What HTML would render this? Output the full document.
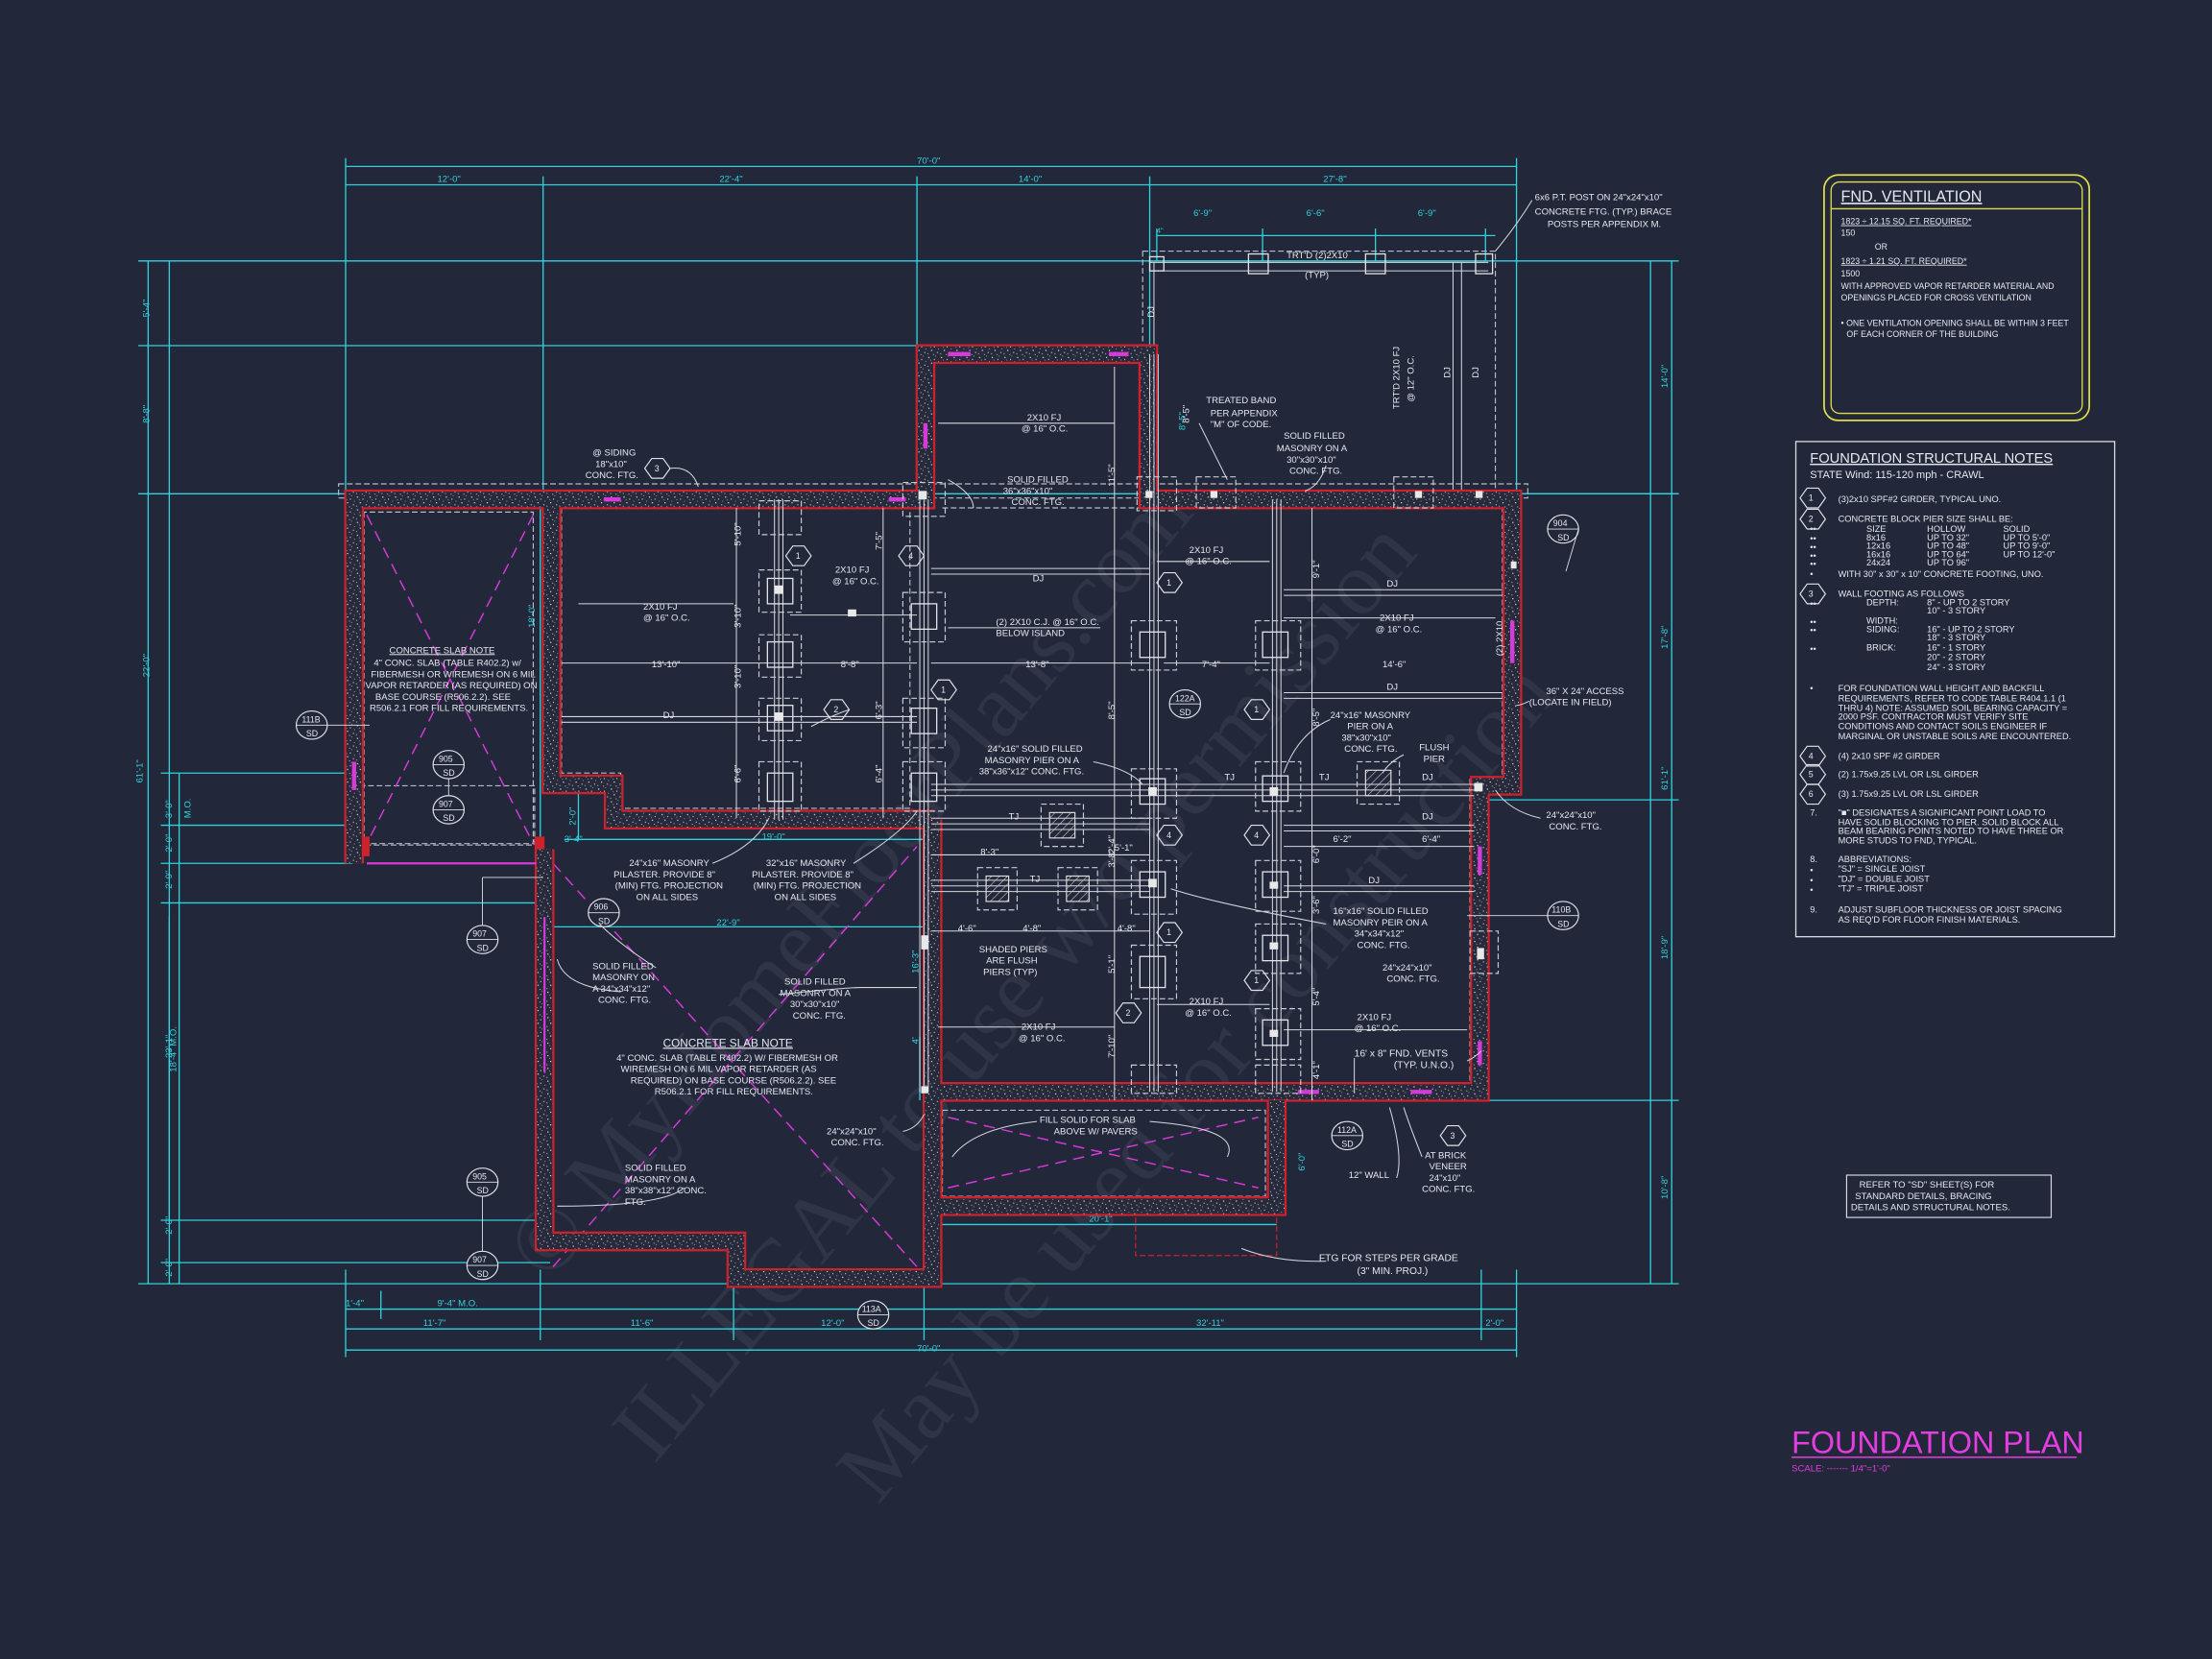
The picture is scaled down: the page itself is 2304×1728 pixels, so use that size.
<!DOCTYPE html>
<html><head><meta charset="utf-8"><style>
html,body{margin:0;padding:0;background:#22273a;}
svg{display:block}
text{font-family:"Liberation Sans",sans-serif;fill:#e6e8ef;}
.t{font-size:6.5px}
.c{fill:#2fd3dc;font-size:6.5px}
.dm{stroke:#2fd3dc;stroke-width:0.9;fill:none}
.w1{stroke:#d0202c;stroke-width:14;fill:none;stroke-linejoin:miter}
.w2{stroke:url(#dots);stroke-width:11;fill:none;stroke-linejoin:miter}
.ds{stroke:#b8bcc8;stroke-width:0.8;fill:none;stroke-dasharray:4 2}
.gl{stroke:#d6d8de;stroke-width:0.7;fill:none}
.mg{stroke:#d63ad8;stroke-width:1;fill:none;stroke-dasharray:8 5}
.pd{stroke:#c8ccd6;stroke-width:0.8;fill:none;stroke-dasharray:4 2}
.ps{stroke:#e0e2e8;stroke-width:0.9;fill:none}
.wm{font-family:"Liberation Serif",serif;fill:#6a6e7e;opacity:0.18;font-size:64px}
</style></head><body>
<svg width="2304" height="1728" viewBox="0 0 1568 1176" xmlns="http://www.w3.org/2000/svg">
<defs>
<pattern id="h" width="4" height="4" patternUnits="userSpaceOnUse" patternTransform="rotate(45)"><line x1="0" y1="0" x2="0" y2="4" stroke="#cfcfcf" stroke-width="0.8"/></pattern>
<pattern id="dots" width="9" height="9" patternUnits="userSpaceOnUse"><rect width="9" height="9" fill="#262a3b"/>
<g fill="#ececec"><rect x="1" y="1" width="0.8" height="0.8"/><rect x="5" y="2.5" width="0.7" height="0.7"/><rect x="3" y="5" width="0.8" height="0.8"/><rect x="7.2" y="6.5" width="0.7" height="0.7"/><rect x="0.5" y="7.5" width="0.6" height="0.6"/><rect x="6" y="0.2" width="0.5" height="0.5"/><rect x="2.5" y="3" width="0.5" height="0.5"/><rect x="8" y="4" width="0.5" height="0.5"/><rect x="4.5" y="8" width="0.6" height="0.6"/></g></pattern>
</defs>
<rect width="1568" height="1176" fill="#22273a"/>

<g transform="rotate(-50 720 640)">
<text class="wm" x="300" y="560">© MyHomeFloorPlans.com</text>
<text class="wm" x="250" y="700">ILLEGAL to use w/o permission</text>
<text class="wm" x="330" y="840">May be used for construction</text>
</g>

<g class="dm">
<line x1="245" y1="118" x2="1075" y2="118"/><line x1="245" y1="131" x2="1075" y2="131"/>
<line x1="245" y1="112" x2="245" y2="350"/><line x1="385" y1="125" x2="385" y2="350"/><line x1="650" y1="125" x2="650" y2="248"/><line x1="815" y1="125" x2="815" y2="350"/><line x1="1075" y1="112" x2="1075" y2="350"/>
<line x1="820" y1="167" x2="1060" y2="167"/><line x1="820" y1="162" x2="820" y2="185"/><line x1="895" y1="162" x2="895" y2="185"/><line x1="975" y1="162" x2="975" y2="185"/><line x1="1053" y1="162" x2="1053" y2="185"/>
<line x1="105" y1="185" x2="105" y2="910"/><line x1="120" y1="185" x2="120" y2="910"/>
<line x1="98" y1="185" x2="1190" y2="185"/><line x1="98" y1="245" x2="655" y2="245"/><line x1="98" y1="350" x2="1190" y2="350"/><line x1="98" y1="910" x2="1190" y2="910"/>
<line x1="114" y1="548" x2="250" y2="548"/><line x1="114" y1="585" x2="250" y2="585"/><line x1="114" y1="612" x2="250" y2="612"/><line x1="114" y1="640" x2="390" y2="640"/><line x1="114" y1="865" x2="390" y2="865"/><line x1="114" y1="895" x2="390" y2="895"/>
<line x1="127" y1="548" x2="127" y2="910"/>
<line x1="1170" y1="185" x2="1170" y2="910"/><line x1="1185" y1="185" x2="1185" y2="910"/>
<line x1="1055" y1="567" x2="1190" y2="567"/><line x1="1050" y1="780" x2="1190" y2="780"/><line x1="1060" y1="350" x2="1190" y2="350"/>
<line x1="245" y1="928" x2="1075" y2="928"/><line x1="245" y1="942" x2="1075" y2="942"/><line x1="245" y1="957" x2="1075" y2="957"/>
<line x1="245" y1="900" x2="245" y2="962"/><line x1="383" y1="900" x2="383" y2="950"/><line x1="520" y1="900" x2="520" y2="950"/><line x1="655" y1="900" x2="655" y2="950"/><line x1="1050" y1="900" x2="1050" y2="950"/><line x1="1075" y1="900" x2="1075" y2="962"/><line x1="270" y1="915" x2="270" y2="935"/>
<line x1="400" y1="595" x2="655" y2="595"/><line x1="392" y1="657" x2="655" y2="657"/><line x1="665" y1="868" x2="905" y2="868"/>
<line x1="383" y1="355" x2="383" y2="595"/><line x1="410" y1="555" x2="410" y2="595"/>
<line x1="120" y1="650" x2="120" y2="865"/><line x1="905" y1="785" x2="905" y2="855"/>
<line x1="652" y1="735" x2="652" y2="780"/>
</g>
<g>
<text class="c" x="310" y="129">12'-0"</text><text class="c" x="510" y="129">22'-4"</text><text class="c" x="722" y="129">14'-0"</text><text class="c" x="938" y="129">27'-8"</text>
<text class="c" x="650" y="116">70'-0"</text><text class="c" x="650" y="958">70'-0"</text>
<text class="c" x="846" y="153">6'-9"</text><text class="c" x="926" y="153">6'-6"</text><text class="c" x="1005" y="153">6'-9"</text><text class="c" x="820" y="165" style="font-size:5px">4"</text>
<text class="c" x="300" y="940">11'-7"</text><text class="c" x="447" y="940">11'-6"</text><text class="c" x="582" y="940">12'-0"</text><text class="c" x="848" y="940">32'-11"</text><text class="c" x="1053" y="940">2'-0"</text>
<text class="c" x="310" y="926">9'-4" M.O.</text><text class="c" x="245" y="926">1'-4"</text><text class="c" x="508" y="656">22'-9"</text><text class="c" x="540" y="595">19'-0"</text><text class="c" x="400" y="597">3'-4"</text><text class="c" x="772" y="866">20'-1"</text>
<g transform="rotate(-90)">
<text class="c" x="-225" y="106">5'-4"</text><text class="c" x="-300" y="106">8'-8"</text><text class="c" x="-480" y="106">22'-0"</text><text class="c" x="-555" y="101">61'-1"</text>
<text class="c" x="-580" y="122">3'-0"</text><text class="c" x="-604" y="122">2'-0"</text><text class="c" x="-630" y="122">2'-9"</text><text class="c" x="-750" y="122">23'-1"</text><text class="c" x="-875" y="122">2'-0"</text><text class="c" x="-905" y="122">2'-0"</text>
<text class="c" x="-760" y="125">18'-4" M.O.</text><text class="c" x="-580" y="135">M.O.</text>
<text class="c" x="-275" y="1182">14'-0"</text><text class="c" x="-460" y="1182">17'-8"</text><text class="c" x="-560" y="1182">61'-1"</text><text class="c" x="-680" y="1182">18'-9"</text><text class="c" x="-850" y="1182">10'-8"</text>
<text class="c" x="-445" y="379">18'-0"</text><text class="c" x="-830" y="925">6'-0"</text><text class="c" x="-690" y="651">16'-3"</text><text class="c" x="-740" y="651">4'</text><text class="c" x="-305" y="840">8'-5"</text><text class="c" x="-585" y="408">2'-0"</text>
</g>
</g>

<g>
<rect x="810" y="178" width="250" height="172" class="ds"/>
<line x1="815" y1="186" x2="1055" y2="186" class="gl"/><line x1="815" y1="192" x2="1055" y2="192" class="gl"/>
<line x1="1030" y1="186" x2="1030" y2="350" class="gl"/><line x1="1036" y1="186" x2="1036" y2="350" class="gl"/>
<line x1="818" y1="186" x2="818" y2="245" class="gl"/>
<rect x="815" y="182" width="10" height="10" class="ps"/><rect x="885" y="180" width="14" height="14" class="ps"/><rect x="968" y="180" width="14" height="14" class="ps"/><rect x="1046" y="180" width="12" height="14" class="ps"/>
<text class="t" x="912" y="183">TRT'D (2)2X10</text><text class="t" x="925" y="197">(TYP)</text>
<text class="t" x="1088" y="142">6x6 P.T. POST ON 24"x24"x10"</text><text class="t" x="1088" y="152">CONCRETE FTG. (TYP.) BRACE</text><text class="t" x="1097" y="161">POSTS PER APPENDIX M.</text>
<path d="M1060,178 Q1075,160 1086,142" class="gl"/>
<text class="t" x="855" y="286">TREATED BAND</text><text class="t" x="858" y="295">PER APPENDIX</text><text class="t" x="858" y="303">"M" OF CODE.</text>
<text class="t" x="910" y="311">SOLID FILLED</text><text class="t" x="905" y="320">MASONRY ON A</text><text class="t" x="912" y="328">30"x30"x10"</text><text class="t" x="914" y="336">CONC. FTG.</text>
<g transform="rotate(-90)"><text class="t" x="-290" y="992">TRT'D 2X10 FJ</text><text class="t" x="-285" y="1002">@ 12" O.C.</text><text class="t" x="-268" y="1028">DJ</text><text class="t" x="-268" y="1048">DJ</text><text class="t" x="-225" y="818">DJ</text></g>
</g>

<g class="ds">
<rect x="240" y="343" width="843" height="10"/>
<path d="M258,363 V598 H378 V363 Z"/>
<path d="M398,360 V548 H440 V573 H645 V360"/>
<path d="M392,610 V875 H526 V900 H648"/>
<path d="M668,360 H1065 V552 H1042 V768 H668"/>
<path d="M668,787 H897 V848 H668 Z"/>
<rect x="255" y="557" width="124" height="42"/>
<rect x="805" y="855" width="100" height="35" style="stroke:#d0202c"/>
</g>

<g class="mg">
<line x1="260" y1="365" x2="378" y2="598"/><line x1="378" y1="365" x2="260" y2="598"/>
<line x1="392" y1="612" x2="650" y2="898"/><line x1="392" y1="898" x2="650" y2="600"/>
<line x1="672" y1="792" x2="892" y2="842"/><line x1="672" y1="842" x2="892" y2="792"/>
</g>

<g>
<path class="w1" d="M251,612 V354 H656 V251 H814 V354 H1072 V557 H1049 V774 H656"/>
<path class="w1" d="M391,354 V556 H435 V581 H662"/>
<path class="w1" d="M386,602 V880 H522 V906 H661 V581"/>
<path class="w1" d="M661,780 V855 H905 V780"/>
<path class="w1" d="M251,600 H262 M379,600 H386"/>
<path class="w2" d="M251,612 V354 H656 V251 H814 V354 H1072 V557 H1049 V774 H656"/>
<path class="w2" d="M391,354 V556 H435 V581 H662"/>
<path class="w2" d="M386,602 V880 H522 V906 H661 V581"/>
<path class="w2" d="M661,780 V855 H905 V780"/>
<g stroke="#d63ad8" stroke-width="3">
<line x1="428" y1="354" x2="440" y2="354"/><line x1="630" y1="354" x2="642" y2="354"/><line x1="672" y1="251" x2="688" y2="251"/><line x1="786" y1="251" x2="800" y2="251"/>
<line x1="656" y1="300" x2="656" y2="318"/><line x1="1072" y1="440" x2="1072" y2="470"/><line x1="1049" y1="600" x2="1049" y2="620"/><line x1="1049" y1="738" x2="1049" y2="755"/>
<line x1="920" y1="774" x2="935" y2="774"/><line x1="1000" y1="774" x2="1015" y2="774"/><line x1="251" y1="540" x2="251" y2="560"/><line x1="260" y1="612" x2="380" y2="612" stroke-width="1.5"/><line x1="386" y1="650" x2="386" y2="760" stroke-width="1.5"/>
</g>
</g>

<g class="gl">
<line x1="549" y1="354" x2="549" y2="581"/><line x1="552" y1="354" x2="552" y2="581"/><line x1="555" y1="354" x2="555" y2="581"/>
<line x1="652" y1="354" x2="652" y2="774"/><line x1="655" y1="354" x2="655" y2="774"/><line x1="658" y1="354" x2="658" y2="774"/>
<line x1="815" y1="251" x2="815" y2="774"/><line x1="818" y1="251" x2="818" y2="774"/><line x1="821" y1="251" x2="821" y2="774"/>
<line x1="902" y1="354" x2="902" y2="774"/><line x1="905" y1="354" x2="905" y2="774"/><line x1="908" y1="354" x2="908" y2="774"/>
<line x1="398" y1="508" x2="650" y2="508"/><line x1="398" y1="512" x2="650" y2="512"/>
<line x1="660" y1="403" x2="815" y2="403"/><line x1="660" y1="407" x2="815" y2="407"/>
<line x1="910" y1="418" x2="1065" y2="418"/><line x1="910" y1="422" x2="1065" y2="422"/>
<line x1="910" y1="491" x2="1065" y2="491"/><line x1="910" y1="495" x2="1065" y2="495"/>
<line x1="660" y1="556" x2="1045" y2="556"/><line x1="660" y1="560" x2="1045" y2="560"/><line x1="660" y1="564" x2="1045" y2="564"/>
<line x1="660" y1="580" x2="815" y2="580"/><line x1="660" y1="584" x2="815" y2="584"/><line x1="660" y1="588" x2="815" y2="588"/>
<line x1="910" y1="585" x2="1045" y2="585"/><line x1="910" y1="589" x2="1045" y2="589"/>
<line x1="660" y1="624" x2="815" y2="624"/><line x1="660" y1="628" x2="815" y2="628"/><line x1="660" y1="632" x2="815" y2="632"/>
<line x1="910" y1="628" x2="1045" y2="628"/><line x1="910" y1="632" x2="1045" y2="632"/>
<line x1="560" y1="436" x2="650" y2="436"/>
<line x1="522" y1="360" x2="522" y2="580"/><line x1="626" y1="360" x2="626" y2="580"/><line x1="790" y1="260" x2="790" y2="780"/><line x1="930" y1="360" x2="930" y2="780"/>
<line x1="398" y1="470" x2="650" y2="470"/><line x1="660" y1="470" x2="815" y2="470"/><line x1="825" y1="470" x2="900" y2="470"/>
<line x1="660" y1="606" x2="815" y2="606"/><line x1="660" y1="660" x2="815" y2="660"/><line x1="910" y1="600" x2="1045" y2="600"/>
</g>
<g class="gl" stroke-width="0.8">
<line x1="410" y1="428" x2="520" y2="428"/><line x1="665" y1="300" x2="790" y2="300"/><line x1="820" y1="398" x2="900" y2="398"/><line x1="910" y1="438" x2="1060" y2="438"/><line x1="665" y1="728" x2="790" y2="728"/><line x1="820" y1="712" x2="900" y2="712"/><line x1="910" y1="730" x2="1040" y2="730"/><line x1="672" y1="445" x2="780" y2="445"/>
</g>

<g>
<g class="pd">
<rect x="538" y="355" width="30" height="24"/><rect x="538" y="404" width="30" height="30"/><rect x="538" y="450" width="30" height="30"/><rect x="538" y="495" width="30" height="30"/><rect x="538" y="540" width="30" height="35"/>
<rect x="640" y="420" width="30" height="35"/><rect x="640" y="495" width="30" height="35"/><rect x="640" y="540" width="30" height="35"/><rect x="640" y="342" width="30" height="24"/>
<rect x="802" y="440" width="32" height="35"/><rect x="802" y="545" width="32" height="35"/><rect x="802" y="610" width="32" height="38"/><rect x="802" y="670" width="32" height="38"/><rect x="802" y="755" width="32" height="20"/>
<rect x="890" y="440" width="32" height="35"/><rect x="890" y="540" width="32" height="35"/><rect x="890" y="610" width="32" height="36"/><rect x="890" y="655" width="32" height="35"/><rect x="890" y="715" width="32" height="36"/><rect x="890" y="755" width="32" height="20"/>
<rect x="738" y="570" width="30" height="30"/><rect x="693" y="615" width="28" height="30"/><rect x="750" y="615" width="28" height="30"/><rect x="962" y="540" width="30" height="30"/><rect x="1042" y="660" width="20" height="30"/><rect x="988" y="338" width="28" height="22"/><rect x="848" y="338" width="28" height="22"/><rect x="806" y="338" width="28" height="24"/>
</g>
<g class="ps">
<rect x="544" y="410" width="18" height="18"/><rect x="544" y="455" width="18" height="18"/><rect x="544" y="500" width="18" height="18"/><rect x="544" y="548" width="18" height="20"/>
<rect x="646" y="428" width="18" height="18"/><rect x="646" y="502" width="18" height="18"/><rect x="646" y="548" width="18" height="20"/>
<rect x="808" y="448" width="18" height="18"/><rect x="808" y="552" width="18" height="18"/><rect x="808" y="618" width="18" height="18"/><rect x="808" y="678" width="18" height="22"/>
<rect x="895" y="448" width="18" height="18"/><rect x="895" y="550" width="18" height="18"/><rect x="895" y="618" width="18" height="18"/><rect x="895" y="663" width="18" height="18"/><rect x="895" y="723" width="18" height="18"/>
</g>
<rect x="744" y="576" width="18" height="18" fill="url(#h)" stroke="#ddd" stroke-width="0.8"/>
<rect x="699" y="621" width="16" height="18" fill="url(#h)" stroke="#ddd" stroke-width="0.8"/>
<rect x="756" y="621" width="16" height="18" fill="url(#h)" stroke="#ddd" stroke-width="0.8"/>
<rect x="968" y="546" width="18" height="18" fill="url(#h)" stroke="#ddd" stroke-width="0.8"/>
<g fill="#e8e8e8"><rect x="549" y="415" width="6" height="6"/><rect x="549" y="505" width="6" height="6"/><rect x="601" y="432" width="6" height="5"/><rect x="651" y="348" width="6" height="6"/><rect x="812" y="348" width="5" height="5"/><rect x="858" y="348" width="5" height="5"/><rect x="1003" y="348" width="5" height="5"/><rect x="1046" y="348" width="5" height="5"/><rect x="1045" y="555" width="6" height="6"/><rect x="1071" y="398" width="4" height="5"/><rect x="814" y="558" width="6" height="6"/><rect x="900" y="558" width="6" height="6"/><rect x="900" y="625" width="6" height="5"/><rect x="900" y="668" width="6" height="5"/><rect x="900" y="730" width="6" height="5"/><rect x="814" y="623" width="6" height="6"/><rect x="653" y="663" width="5" height="10"/><rect x="653" y="770" width="5" height="5"/><rect x="1047" y="672" width="5" height="8"/></g>
</g>

<g stroke="#e0e2e8" stroke-width="0.8" fill="none">
<polygon points="457,332 462,325 470,325 475,332 470,339 462,339"/>
<polygon points="557,394 562,387 570,387 575,394 570,401 562,401"/>
<polygon points="584,503 589,496 597,496 602,503 597,510 589,510"/>
<polygon points="637,394 642,387 650,387 655,394 650,401 642,401"/>
<polygon points="660,489 665,482 673,482 678,489 673,496 665,496"/>
<polygon points="820,413 825,406 833,406 838,413 833,420 825,420"/>
<polygon points="882,503 887,496 895,496 900,503 895,510 887,510"/>
<polygon points="820,592 825,585 833,585 838,592 833,599 825,599"/>
<polygon points="882,592 887,585 895,585 900,592 895,599 887,599"/>
<polygon points="820,661 825,654 833,654 838,661 833,668 825,668"/>
<polygon points="882,695 887,688 895,688 900,695 895,702 887,702"/>
<polygon points="791,718 796,711 804,711 809,718 804,725 796,725"/>
<polygon points="1021,805 1026,798 1034,798 1039,805 1034,812 1026,812"/>
<polygon points="1276,353 1281,346 1289,346 1294,353 1289,360 1281,360"/>
<polygon points="1276,368 1281,361 1289,361 1294,368 1289,375 1281,375"/>
<polygon points="1276,421 1281,414 1289,414 1294,421 1289,428 1281,428"/>
<polygon points="1276,536 1281,529 1289,529 1294,536 1289,543 1281,543"/>
<polygon points="1276,549 1281,542 1289,542 1294,549 1289,556 1281,556"/>
<polygon points="1276,563 1281,556 1289,556 1294,563 1289,570 1281,570"/>
</g>
<g class="t" style="font-size:6px">
<text x="464" y="334">3</text><text x="564" y="396">1</text><text x="591" y="505">2</text><text x="644" y="396">4</text><text x="667" y="491">1</text><text x="827" y="415">1</text><text x="889" y="505">1</text><text x="827" y="594">4</text><text x="889" y="594">4</text><text x="827" y="663">1</text><text x="889" y="697">1</text><text x="798" y="720">2</text><text x="1028" y="807">3</text>
<text x="1282" y="355">1</text><text x="1282" y="370">2</text><text x="1282" y="423">3</text><text x="1282" y="538">4</text><text x="1282" y="551">5</text><text x="1282" y="565">6</text>
</g>

<g stroke="#e0e2e8" stroke-width="0.8" fill="#22273a">
<ellipse cx="221" cy="514" rx="11" ry="10"/><ellipse cx="318" cy="542" rx="11" ry="10"/><ellipse cx="318" cy="574" rx="11" ry="10"/><ellipse cx="428" cy="647" rx="11" ry="10"/><ellipse cx="342" cy="666" rx="11" ry="10"/>
<ellipse cx="342" cy="838" rx="11" ry="10"/><ellipse cx="342" cy="897" rx="11" ry="10"/><ellipse cx="619" cy="932" rx="11" ry="10"/><ellipse cx="955" cy="805" rx="11" ry="10"/><ellipse cx="840" cy="499" rx="11" ry="10"/><ellipse cx="1108" cy="649" rx="11" ry="10"/><ellipse cx="1108" cy="375" rx="11" ry="10"/>
</g>
<g stroke="#e0e2e8" stroke-width="0.6">
<line x1="210" y1="514" x2="232" y2="514"/><line x1="307" y1="542" x2="329" y2="542"/><line x1="307" y1="574" x2="329" y2="574"/><line x1="417" y1="647" x2="439" y2="647"/><line x1="331" y1="666" x2="353" y2="666"/><line x1="331" y1="838" x2="353" y2="838"/><line x1="331" y1="897" x2="353" y2="897"/><line x1="608" y1="932" x2="630" y2="932"/><line x1="944" y1="805" x2="966" y2="805"/><line x1="829" y1="499" x2="851" y2="499"/><line x1="1097" y1="649" x2="1119" y2="649"/><line x1="1097" y1="375" x2="1119" y2="375"/>
<line x1="232" y1="514" x2="262" y2="514"/><line x1="318" y1="552" x2="318" y2="564"/><line x1="342" y1="848" x2="342" y2="887"/><line x1="342" y1="656" x2="342" y2="622" /><line x1="342" y1="622" x2="385" y2="622"/><line x1="1040" y1="649" x2="1097" y2="649"/><line x1="1119" y1="375" x2="1110" y2="405"/>
</g>
<g class="t" style="font-size:6px">
<text x="214" y="512">111B</text><text x="217" y="522">SD</text><text x="311" y="540">905</text><text x="314" y="550">SD</text><text x="311" y="572">907</text><text x="314" y="582">SD</text><text x="421" y="645">906</text><text x="424" y="655">SD</text><text x="335" y="664">907</text><text x="338" y="674">SD</text>
<text x="335" y="836">905</text><text x="338" y="846">SD</text><text x="335" y="895">907</text><text x="338" y="905">SD</text><text x="611" y="930">113A</text><text x="615" y="940">SD</text><text x="948" y="803">112A</text><text x="951" y="813">SD</text><text x="833" y="497">122A</text><text x="836" y="507">SD</text><text x="1100" y="647">110B</text><text x="1104" y="657">SD</text><text x="1101" y="373">904</text><text x="1104" y="383">SD</text>
</g>

<g class="t">
<text x="276" y="463" style="text-decoration:underline">CONCRETE SLAB NOTE</text>
<text x="265" y="472">4" CONC. SLAB (TABLE R402.2) w/</text><text x="263" y="480">FIBERMESH OR WIREMESH ON 6 MIL</text><text x="259" y="488">VAPOR RETARDER (AS REQUIRED) ON</text><text x="266" y="496">BASE COURSE (R506.2.2). SEE</text><text x="262" y="504">R506.2.1 FOR FILL REQUIREMENTS.</text>
<text x="470" y="742" style="font-size:8px;text-decoration:underline">CONCRETE SLAB NOTE</text>
<text x="437" y="752">4" CONC. SLAB (TABLE R402.2) W/ FIBERMESH OR</text><text x="440" y="760">WIREMESH ON 6 MIL VAPOR RETARDER (AS</text><text x="447" y="768">REQUIRED) ON BASE COURSE (R506.2.2). SEE</text><text x="464" y="776">R506.2.1 FOR FILL REQUIREMENTS.</text>
<text x="420" y="323">@ SIDING</text><text x="422" y="331">18"x10"</text><text x="415" y="339">CONC. FTG.</text>
<text x="456" y="432">2X10 FJ</text><text x="456" y="440">@ 16" O.C.</text>
<text x="592" y="406">2X10 FJ</text><text x="590" y="414">@ 16" O.C.</text>
<text x="728" y="298">2X10 FJ</text><text x="724" y="306">@ 16" O.C.</text>
<text x="714" y="342">SOLID FILLED</text><text x="711" y="350">36"x36"x10"</text><text x="717" y="358">CONC. FTG.</text>
<text x="843" y="392">2X10 FJ</text><text x="840" y="400">@ 16" O.C.</text>
<text x="732" y="412">DJ</text><text x="983" y="416">DJ</text><text x="983" y="489">DJ</text><text x="470" y="509">DJ</text><text x="1008" y="553">DJ</text><text x="1008" y="581">DJ</text><text x="970" y="626">DJ</text>
<text x="978" y="440">2X10 FJ</text><text x="975" y="448">@ 16" O.C.</text>
<text x="706" y="443">(2) 2X10 C.J. @ 16" O.C.</text><text x="706" y="451">BELOW ISLAND</text>
<text x="462" y="473">13'-10"</text><text x="596" y="473">8'-8"</text><text x="727" y="473">13'-8"</text><text x="852" y="473">7'-4"</text><text x="980" y="473">14'-6"</text>
<text x="700" y="533">24"x16" SOLID FILLED</text><text x="698" y="541">MASONRY PIER ON A</text><text x="694" y="549">38"x36"x12" CONC. FTG.</text>
<text x="943" y="509">24"x16" MASONRY</text><text x="955" y="517">PIER ON A</text><text x="951" y="525">38"x30"x10"</text><text x="953" y="533">CONC. FTG.</text>
<text x="1006" y="532">FLUSH</text><text x="1009" y="540">PIER</text>
<text x="868" y="553">TJ</text><text x="935" y="553">TJ</text><text x="715" y="581">TJ</text><text x="730" y="625">TJ</text><text x="695" y="606">8'-3"</text><text x="790" y="603">5'-1"</text><text x="945" y="597">6'-2"</text><text x="1008" y="597">6'-4"</text>
<text x="1096" y="492">36" X 24" ACCESS</text><text x="1084" y="500">(LOCATE IN FIELD)</text>
<text x="1096" y="580">24"x24"x10"</text><text x="1098" y="588">CONC. FTG.</text>
<text x="446" y="614">24"x16" MASONRY</text><text x="435" y="622">PILASTER. PROVIDE 8"</text><text x="436" y="630">(MIN) FTG. PROJECTION</text><text x="451" y="638">ON ALL SIDES</text>
<text x="543" y="614">32"x16" MASONRY</text><text x="533" y="622">PILASTER. PROVIDE 8"</text><text x="534" y="630">(MIN) FTG. PROJECTION</text><text x="549" y="638">ON ALL SIDES</text>
<text x="679" y="660">4'-6"</text><text x="725" y="660">4'-8"</text><text x="792" y="660">4'-8"</text>
<text x="694" y="675">SHADED PIERS</text><text x="699" y="683">ARE FLUSH</text><text x="697" y="691">PIERS (TYP)</text>
<text x="945" y="648">16"x16" SOLID FILLED</text><text x="945" y="656">MASONRY PEIR ON A</text><text x="960" y="664">34"x34"x12"</text><text x="962" y="672">CONC. FTG.</text>
<text x="980" y="688">24"x24"x10"</text><text x="983" y="696">CONC. FTG.</text>
<text x="420" y="687">SOLID FILLED</text><text x="420" y="695">MASONRY ON</text><text x="420" y="703">A 34"x34"x12"</text><text x="424" y="711">CONC. FTG.</text>
<text x="556" y="698">SOLID FILLED</text><text x="553" y="706">MASONRY ON A</text><text x="560" y="714">30"x30"x10"</text><text x="562" y="722">CONC. FTG.</text>
<text x="724" y="730">2X10 FJ</text><text x="722" y="738">@ 16" O.C.</text><text x="843" y="712">2X10 FJ</text><text x="840" y="720">@ 16" O.C.</text><text x="962" y="723">2X10 FJ</text><text x="960" y="731">@ 16" O.C.</text>
<text x="960" y="749" style="font-size:7px">16' x 8" FND. VENTS</text><text x="988" y="757" style="font-size:7px">(TYP. U.N.O.)</text>
<text x="737" y="796">FILL SOLID FOR SLAB</text><text x="747" y="804">ABOVE W/ PAVERS</text>
<text x="586" y="804">24"x24"x10"</text><text x="589" y="812">CONC. FTG.</text>
<text x="443" y="830">SOLID FILLED</text><text x="443" y="838">MASONRY ON A</text><text x="443" y="846">38"x38"x12" CONC.</text><text x="443" y="854">FTG.</text>
<text x="956" y="835">12" WALL</text><text x="1010" y="821">AT BRICK</text><text x="1013" y="829">VENEER</text><text x="1013" y="837">24"x10"</text><text x="1008" y="845">CONC. FTG.</text>
<text x="935" y="894" style="font-size:7px">FTG FOR STEPS PER GRADE</text><text x="962" y="903" style="font-size:7px">(3" MIN. PROJ.)</text>
<g transform="rotate(-90)"><text x="-387" y="525">5'-10"</text><text x="-445" y="525">3'-10"</text><text x="-488" y="525">3'-10"</text><text x="-555" y="525">6'-6"</text><text x="-390" y="625">7'-5"</text><text x="-510" y="625">6'-3"</text><text x="-555" y="625">6'-4"</text><text x="-510" y="790">8'-5"</text><text x="-300" y="843">8'-5"</text><text x="-345" y="790">11'-5"</text><text x="-410" y="935">9'-1"</text><text x="-515" y="935">8'-5"</text><text x="-612" y="935">6'-0"</text><text x="-648" y="935">3'-6"</text><text x="-713" y="935">5'-4"</text><text x="-765" y="935">4'-1"</text><text x="-615" y="790">3'-8"</text><text x="-690" y="790">5'-1"</text><text x="-750" y="790">7'-10"</text><text x="-465" y="1065">(2) 2X10</text><text x="-605" y="790">2'-4"</text></g>
</g>
<g class="gl" stroke-width="0.6">
<path d="M475,332 Q490,330 495,345"/><path d="M602,503 Q590,507 575,515"/><path d="M505,612 Q535,600 545,580"/><path d="M605,612 Q640,590 650,575"/><path d="M850,300 Q860,320 870,340"/><path d="M940,330 Q935,345 925,348"/><path d="M672,340 Q690,350 690,360"/><path d="M775,540 Q800,545 810,556"/><path d="M943,510 Q920,520 910,548"/><path d="M995,535 Q985,540 980,548"/><path d="M1084,497 Q1078,500 1075,500"/><path d="M1092,580 Q1070,575 1060,560"/><path d="M940,655 Q860,640 830,630"/><path d="M465,686 Q440,670 425,655"/><path d="M552,705 Q600,700 610,700 Q630,700 650,700"/><path d="M640,802 Q650,800 655,790"/><path d="M485,842 Q470,855 395,855"/><path d="M990,835 Q995,820 985,785"/><path d="M1008,820 Q1000,800 995,785"/><path d="M940,894 Q905,895 880,885"/><path d="M735,795 Q690,800 675,820"/><path d="M815,795 Q880,800 870,820"/><path d="M1040,752 Q1045,750 1050,745"/><path d="M960,750 V775"/><path d="M440,703 Q400,700 395,680"/></g>

<g>
<rect x="1293" y="124" width="188" height="174" rx="10" fill="none" stroke="#e0dc48" stroke-width="1.2"/>
<rect x="1298" y="129" width="178" height="164" rx="6" fill="none" stroke="#e0dc48" stroke-width="0.9"/>
<line x1="1298" y1="148" x2="1476" y2="148" stroke="#e0dc48" stroke-width="0.9"/>
<text x="1305" y="143" style="font-size:11px;text-decoration:underline">FND. VENTILATION</text>
<g style="font-size:6px">
<text x="1305" y="159" style="text-decoration:underline">1823 ÷ 12.15 SQ. FT. REQUIRED*</text><text x="1305" y="167">150</text><text x="1329" y="177">OR</text>
<text x="1305" y="187" style="text-decoration:underline">1823 ÷ 1.21 SQ. FT. REQUIRED*</text><text x="1305" y="196">1500</text>
<text x="1305" y="205">WITH APPROVED VAPOR RETARDER MATERIAL AND</text><text x="1305" y="213">OPENINGS PLACED FOR CROSS VENTILATION</text>
<text x="1305" y="231">• ONE VENTILATION OPENING SHALL BE WITHIN 3 FEET</text><text x="1309" y="239">OF EACH CORNER OF THE BUILDING</text>
</g>
</g>

<g>
<rect x="1273" y="313" width="226" height="351" fill="none" stroke="#d8dae0" stroke-width="0.9"/>
<text x="1283" y="328" style="font-size:10px;text-decoration:underline">FOUNDATION STRUCTURAL NOTES</text>
<text x="1283" y="339" style="font-size:7.5px">STATE Wind: 115-120 mph - CRAWL</text>
<g style="font-size:6.3px">
<text x="1303" y="356">(3)2x10 SPF#2 GIRDER, TYPICAL UNO.</text>
<text x="1303" y="370">CONCRETE BLOCK PIER SIZE SHALL BE:</text>
<text x="1323" y="377">SIZE</text><text x="1366" y="377">HOLLOW</text><text x="1420" y="377">SOLID</text>
<text x="1323" y="383">8x16</text><text x="1366" y="383">UP TO 32"</text><text x="1420" y="383">UP TO 5'-0"</text>
<text x="1323" y="389">12x16</text><text x="1366" y="389">UP TO 48"</text><text x="1420" y="389">UP TO 9'-0"</text>
<text x="1323" y="395">16x16</text><text x="1366" y="395">UP TO 64"</text><text x="1420" y="395">UP TO 12'-0"</text>
<text x="1323" y="401">24x24</text><text x="1366" y="401">UP TO 96"</text>
<text x="1303" y="409">WITH 30" x 30" x 10" CONCRETE FOOTING, UNO.</text>
<text x="1303" y="423">WALL FOOTING AS FOLLOWS</text><text x="1323" y="429">DEPTH:</text><text x="1366" y="429">8" - UP TO 2 STORY</text><text x="1366" y="435">10" - 3 STORY</text>
<text x="1323" y="442">WIDTH:</text><text x="1323" y="448">SIDING:</text><text x="1366" y="448">16" - UP TO 2 STORY</text><text x="1366" y="454">18" - 3 STORY</text>
<text x="1323" y="461">BRICK:</text><text x="1366" y="461">16" - 1 STORY</text><text x="1366" y="468">20" - 2 STORY</text><text x="1366" y="475">24" - 3 STORY</text>
<text x="1303" y="490">FOR FOUNDATION WALL HEIGHT AND BACKFILL</text><text x="1303" y="497">REQUIREMENTS, REFER TO CODE TABLE R404.1.1 (1</text><text x="1303" y="504">THRU 4) NOTE: ASSUMED SOIL BEARING CAPACITY =</text><text x="1303" y="510">2000 PSF. CONTRACTOR MUST VERIFY SITE</text><text x="1303" y="517">CONDITIONS AND CONTACT SOILS ENGINEER IF</text><text x="1303" y="524">MARGINAL OR UNSTABLE SOILS ARE ENCOUNTERED.</text>
<text x="1303" y="538">(4) 2x10 SPF #2 GIRDER</text><text x="1303" y="551">(2) 1.75x9.25 LVL OR LSL GIRDER</text><text x="1303" y="565">(3) 1.75x9.25 LVL OR LSL GIRDER</text>
<text x="1283" y="578">7.</text><text x="1303" y="578">"■" DESIGNATES A SIGNIFICANT POINT LOAD TO</text><text x="1303" y="585">HAVE SOLID BLOCKING TO PIER. SOLID BLOCK ALL</text><text x="1303" y="591">BEAM BEARING POINTS NOTED TO HAVE THREE OR</text><text x="1303" y="598">MORE STUDS TO FND, TYPICAL.</text>
<text x="1283" y="611">8.</text><text x="1303" y="611">ABBREVIATIONS:</text><text x="1303" y="618">"SJ" = SINGLE JOIST</text><text x="1303" y="625">"DJ" = DOUBLE JOIST</text><text x="1303" y="632">"TJ" = TRIPLE JOIST</text>
<text x="1283" y="647">9.</text><text x="1303" y="647">ADJUST SUBFLOOR THICKNESS OR JOIST SPACING</text><text x="1303" y="654">AS REQ'D FOR FLOOR FINISH MATERIALS.</text>
<text x="1283" y="377">••</text><text x="1283" y="384">••</text><text x="1283" y="390">••</text><text x="1283" y="396">••</text><text x="1283" y="402">••</text><text x="1283" y="409">•</text><text x="1283" y="430">••</text><text x="1283" y="443">••</text><text x="1283" y="449">••</text><text x="1283" y="462">••</text><text x="1283" y="490">•</text><text x="1283" y="619">•</text><text x="1283" y="626">•</text><text x="1283" y="633">•</text>
</g>
</g>

<rect x="1309" y="833" width="145" height="30" fill="none" stroke="#d8dae0" stroke-width="0.8"/>
<g style="font-size:6.5px"><text class="t" x="1318" y="842">REFER TO "SD" SHEET(S) FOR</text><text class="t" x="1315" y="850">STANDARD DETAILS, BRACING</text><text class="t" x="1312" y="858">DETAILS AND STRUCTURAL NOTES.</text></g>

<text x="1270" y="1030" style="font-size:22px;fill:#e43ee0;">FOUNDATION PLAN</text>
<line x1="1270" y1="1033" x2="1472" y2="1033" stroke="#e43ee0" stroke-width="1"/>
<text x="1270" y="1043" style="font-size:6.5px;fill:#e43ee0;">SCALE: ------- 1/4"=1'-0"</text>
</svg>
</body></html>
